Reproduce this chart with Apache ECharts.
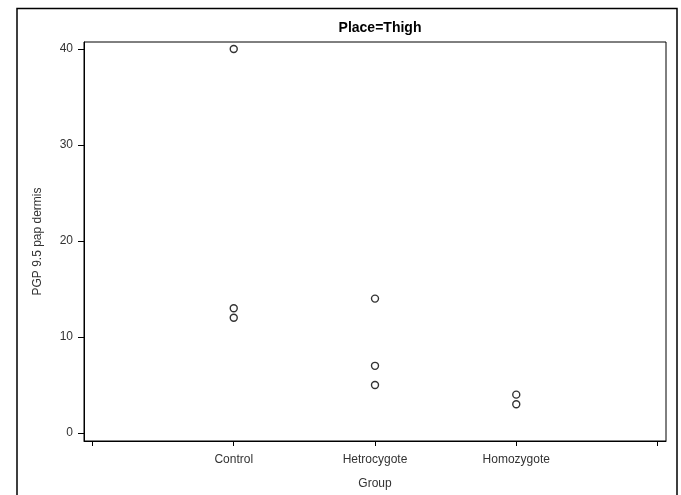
<!DOCTYPE html>
<html>
<head>
<meta charset="utf-8">
<script src="https://cdn.jsdelivr.net/npm/echarts@6/dist/echarts.min.js"></script>
<style>
  html, body { margin: 0; padding: 0; background: #fff; }
  #chart { width: 681px; height: 495px; }
</style>
</head>
<body>
<div id="chart"></div>
<script>
// Groups on the horizontal axis (positions 1..3; 0 and 4 are empty end ticks)
const groups = ['Control', 'Hetrocygote', 'Homozygote'];
const groupTicks = [0, 1, 2, 3, 4];
const yTicks = [0, 10, 20, 30, 40];

// PGP 9.5 pap dermis measurements per group
const controlValues = [40, 13, 12];
const hetrocygoteValues = [14, 7, 5];
const homozygoteValues = [4, 3];

const valuesByGroup = [controlValues, hetrocygoteValues, homozygoteValues];
const points = [];
valuesByGroup.forEach((vals, gi) => {
  vals.forEach(v => points.push([gi + 1, v]));
});

const font = 'Liberation Sans, Arial, Helvetica, sans-serif';
const chart = echarts.init(document.getElementById('chart'), null, { renderer: 'canvas' });

chart.setOption({
  animation: false,
  backgroundColor: '#fff',
  title: {
    text: 'Place=Thigh',
    left: 375,
    textAlign: 'center',
    top: 16,
    textStyle: { fontFamily: font, fontSize: 14, fontWeight: 'bold', color: '#000' }
  },
  grid: {
    left: 84, right: 15, top: 42, bottom: 54,
    outerBoundsMode: 'none',
    containLabel: false,
    show: true, borderColor: '#000', borderWidth: 1, backgroundColor: 'transparent'
  },
  xAxis: {
    type: 'value',
    min: -0.06,
    max: 4.06,
    name: 'Group',
    nameLocation: 'middle',
    nameGap: 37,
    nameTextStyle: { fontFamily: font, fontSize: 12, color: '#333' },
    splitLine: { show: false },
    axisLine: { show: true, onZero: false, lineStyle: { color: '#000', width: 1 } },
    axisTick: { show: true, length: 5, customValues: groupTicks, lineStyle: { color: '#000' } },
    axisLabel: {
      customValues: [1, 2, 3],
      margin: 13,
      fontFamily: font, fontSize: 12, color: '#333',
      formatter: v => groups[Math.round(v) - 1] || ''
    }
  },
  yAxis: {
    type: 'value',
    min: -0.83,
    max: 40.73,
    name: 'PGP 9.5 pap dermis',
    nameLocation: 'middle',
    nameRotate: 90,
    nameGap: 40,
    nameTextStyle: { fontFamily: font, fontSize: 12, color: '#333' },
    splitLine: { show: false },
    axisLine: { show: true, onZero: false, lineStyle: { color: '#000', width: 1 } },
    axisTick: { show: true, length: 6, customValues: yTicks, lineStyle: { color: '#000' } },
    axisLabel: {
      customValues: yTicks,
      margin: 11,
      fontFamily: font, fontSize: 12, color: '#333'
    }
  },
  series: [{
    type: 'scatter',
    data: points,
    symbol: 'circle',
    symbolSize: 7,
    itemStyle: { color: '#fff', borderColor: '#000', borderWidth: 1.4 }
  }],
  graphic: [{
    type: 'polyline',
    shape: { points: [[17, 495], [17, 8.5], [677, 8.5], [677, 495]] },
    style: { stroke: '#000', lineWidth: 1.5, fill: null },
    silent: true
  }]
});
</script>
</body>
</html>
